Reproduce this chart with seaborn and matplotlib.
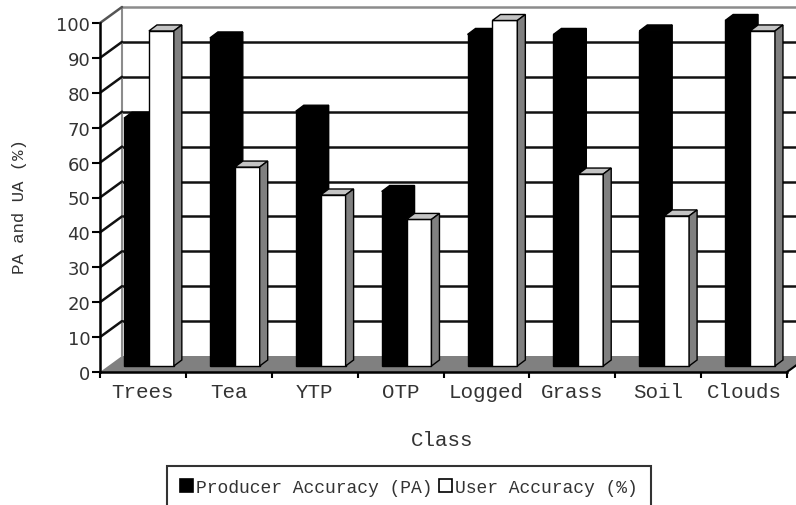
import numpy as np
import pandas as pd
import matplotlib
matplotlib.use("Agg")
import matplotlib.pyplot as plt
import matplotlib.transforms as mtransforms
from matplotlib.patches import Polygon, Patch
import seaborn as sns

# Accuracy per land-cover class (%)
classes = ["Trees", "Tea", "YTP", "OTP", "Logged", "Grass", "Soil", "Clouds"]
producer_acc = [71, 94, 73, 50, 95, 95, 96, 99]
user_acc = [96, 57, 49, 42, 99, 55, 43, 96]
series_names = ["Producer Accuracy (PA)", "User Accuracy (%)"]
y_ticks = list(range(0, 101, 10))

df = pd.DataFrame({
    "Class": classes * 2,
    "Accuracy": producer_acc + user_acc,
    "Series": [series_names[0]] * len(classes) + [series_names[1]] * len(classes),
})

sns.set_style("white")
plt.rcParams["font.family"] = ["DejaVu Sans"]
MONO = "Liberation Mono"
TXT = "#333333"

DPI = 100
W, H = 796, 506
fig = plt.figure(figsize=(W / DPI, H / DPI), dpi=DPI)
fig.patch.set_facecolor("white")

# front plane of the pseudo-3D box, in pixels
ax_left, ax_right, ax_bottom, ax_top = 100, 787, 373, 24
ax = fig.add_axes([ax_left / W, (H - ax_bottom) / H,
                   (ax_right - ax_left) / W, (ax_bottom - ax_top) / H])
ax.set_facecolor("none")

sns.barplot(data=df, x="Class", y="Accuracy", hue="Series",
            palette=["black", "white"], saturation=1, width=0.58,
            edgecolor="black", linewidth=1.0, ax=ax, legend=False)
bars = [p for c in ax.containers for p in c]

ax.set_xlim(-0.5, len(classes) - 0.5)
ax.set_ylim(0, 100)

# data units per pixel
sx = (ax_right - ax_left) / len(classes)
sy = (ax_bottom - ax_top) / 100.0
wall_dx, wall_dy = 22 / sx, 16 / sy      # back wall offset
bar_dx, bar_dy = 8 / sx, 6 / sy          # bar depth
x0, x1 = -0.5, len(classes) - 0.5

# floor
ax.add_patch(Polygon([(x0, 0), (x1, 0), (x1 + wall_dx, wall_dy), (x0 + wall_dx, wall_dy)],
                     closed=True, facecolor="#808080", edgecolor="none",
                     zorder=0.5, clip_on=False))

# back wall grid lines and frame
for v in y_ticks[1:-1]:
    ax.plot([x0 + wall_dx, x1 + wall_dx], [v + wall_dy] * 2, color="#111111",
            lw=1.8, zorder=0.6, clip_on=False, solid_capstyle="butt")
ax.plot([x0 + wall_dx, x1 + wall_dx], [100 + wall_dy] * 2, color="#8c8c8c",
        lw=1.8, zorder=0.6, clip_on=False)
ax.plot([x0 + wall_dx] * 2, [wall_dy, 100 + wall_dy], color="#8c8c8c",
        lw=1.5, zorder=0.6, clip_on=False)

# side wall lines from the front axis to the back wall
for v in y_ticks[1:]:
    ax.plot([x0, x0 + wall_dx], [v, v + wall_dy],
            color="#111111" if v < 100 else "#555555",
            lw=1.8, zorder=0.7, clip_on=False)
ax.plot([x1, x1 + wall_dx], [0, wall_dy], color="black", lw=1.5,
        zorder=0.7, clip_on=False)

# shift the bars back into the box and give them top and side faces
shift = ax.transData + mtransforms.ScaledTranslation(6 / DPI, 6 / DPI, fig.dpi_scale_trans)
for p in bars:
    x, w, h = p.get_x(), p.get_width(), p.get_height()
    is_dark = p.get_facecolor()[0] < 0.5
    z = 3 if is_dark else 4
    p.set_transform(shift)
    p.set_clip_on(False)
    p.set_zorder(z)
    top_c = "black" if is_dark else "#c4c4c4"
    side_c = "black" if is_dark else "#808080"
    top = Polygon([(x, h), (x + w, h), (x + w + bar_dx, h + bar_dy), (x + bar_dx, h + bar_dy)],
                  closed=True, facecolor=top_c, edgecolor="black", lw=1.0,
                  transform=shift, zorder=z, clip_on=False)
    side = Polygon([(x + w, 0), (x + w + bar_dx, bar_dy), (x + w + bar_dx, h + bar_dy), (x + w, h)],
                   closed=True, facecolor=side_c, edgecolor="black", lw=1.0,
                   transform=shift, zorder=z, clip_on=False)
    ax.add_patch(top)
    ax.add_patch(side)

# front axes
for s in ["top", "right"]:
    ax.spines[s].set_visible(False)
for s in ["left", "bottom"]:
    ax.spines[s].set_color("black")
    ax.spines[s].set_linewidth(1.8)
    ax.spines[s].set_zorder(6)

ax.set_yticks(y_ticks)
ax.set_yticklabels([str(v) for v in y_ticks])
ax.tick_params(axis="y", direction="out", length=6, width=1.5, color="black",
               labelsize=13, labelcolor=TXT, pad=1, left=True)
ax.set_xticks(range(len(classes)))
ax.set_xticklabels(classes, fontfamily=MONO, fontsize=15, color=TXT)
ax.set_xticks(np.arange(-0.5, len(classes), 1.0), minor=True)
ax.tick_params(axis="x", which="major", length=0, pad=7)
ax.tick_params(axis="x", which="minor", direction="out", length=4, width=1.5,
               color="black", bottom=True)
ax.set_xlabel("")
ax.set_ylabel("")

fig.text(20 / W, (H - 207) / H, "PA and UA (%)", rotation=90, ha="center", va="center",
         fontfamily=MONO, fontsize=12.5, color=TXT)
fig.text(442 / W, (H - 446) / H, "Class", ha="center", va="baseline",
         fontfamily=MONO, fontsize=15, color=TXT)

handles = [Patch(facecolor="black", edgecolor="black", lw=1.2),
           Patch(facecolor="white", edgecolor="black", lw=1.2)]
leg = fig.legend(handles, series_names, loc="upper center",
                 bbox_to_anchor=(409 / W, (H - 467) / H), ncol=2,
                 frameon=True, fancybox=False, edgecolor="black",
                 handlelength=0.7, handleheight=0.7, handletextpad=0.2,
                 columnspacing=0.35, borderpad=0.7, borderaxespad=0,
                 prop={"family": MONO, "size": 13})
leg.get_frame().set_linewidth(1.5)
for t in leg.get_texts():
    t.set_color(TXT)

fig.savefig("out.png", dpi=DPI, facecolor="white")
